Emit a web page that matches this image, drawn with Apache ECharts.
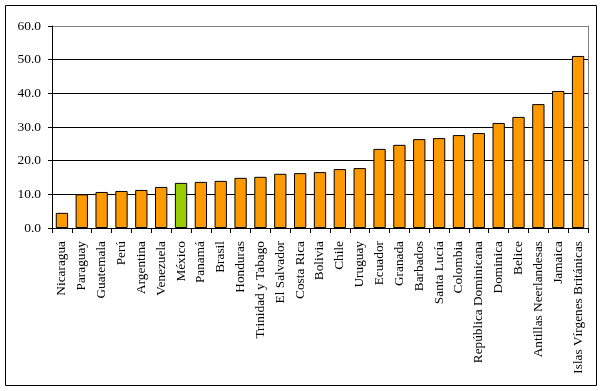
<!DOCTYPE html>
<html><head><meta charset="utf-8">
<script src="https://cdn.jsdelivr.net/npm/echarts@6/dist/echarts.min.js"></script>
<style>html,body{margin:0;padding:0;background:#fff}#c{width:603px;height:391px}</style>
</head><body><div id="c"></div>
<script>
const categories = ["Nicaragua","Paraguay","Guatemala","Perú","Argentina","Venezuela","México","Panamá","Brasil","Honduras","Trinidad y Tabago","El Salvador","Costa Rica","Bolivia","Chile","Uruguay","Ecuador","Granada","Barbados","Santa Lucía","Colombia","República Dominicana","Dominica","Belice","Antillas Neerlandesas","Jamaica","Islas Vírgenes Británicas"];
const values = [4.5,10.0,10.7,11.0,11.3,12.2,13.4,13.7,14.0,14.9,15.2,16.1,16.3,16.6,17.5,17.8,23.5,24.7,26.4,26.7,27.6,28.2,31.2,33.0,36.8,40.7,51.1];
const highlight = "México";
const yTicks = {min: 0, max: 60, interval: 10};

const font = "'Liberation Serif', 'DejaVu Serif', serif";
const chart = echarts.init(document.getElementById('c'), null, {renderer: 'canvas'});
chart.setOption({
  animation: false,
  backgroundColor: '#fff',
  grid: {left: 52, right: 15, top: 26, bottom: 163, containLabel: false},
  graphic: [{type: 'rect', shape: {x: 5.5, y: 5.5, width: 591, height: 380}, style: {fill: 'none', stroke: '#000', lineWidth: 1}, z: -1}],
  xAxis: {
    type: 'category', data: categories,
    axisLine: {lineStyle: {color: '#000', width: 1}},
    axisTick: {show: true, interval: 0, length: 5, lineStyle: {color: '#000'}},
    axisLabel: {interval: 0, rotate: 90, margin: 13, color: '#000', fontFamily: font, fontSize: 13.3}
  },
  yAxis: [{
    type: 'value', min: yTicks.min, max: yTicks.max, interval: yTicks.interval,
    axisLine: {show: true, lineStyle: {color: '#000'}},
    axisTick: {show: true, length: 4, lineStyle: {color: '#000'}},
    axisLabel: {color: '#000', fontFamily: font, fontSize: 13.5, margin: 11, formatter: v => v.toFixed(1)},
    splitLine: {show: true, lineStyle: {color: ['#000','#000','#000','#000','#000','#000','#808080'], width: 1}}
  }, {
    type: 'value', min: yTicks.min, max: yTicks.max, interval: yTicks.interval, position: 'right',
    axisLine: {show: true, lineStyle: {color: '#808080'}},
    axisTick: {show: false}, axisLabel: {show: false}, splitLine: {show: false}
  }],
  series: [{
    type: 'bar', barCategoryGap: '38%',
    data: values.map((v, i) => ({value: v, itemStyle: {color: categories[i] === highlight ? '#99CC00' : '#FF9900'}})),
    itemStyle: {borderColor: '#000', borderWidth: 1}
  }]
});
</script></body></html>
